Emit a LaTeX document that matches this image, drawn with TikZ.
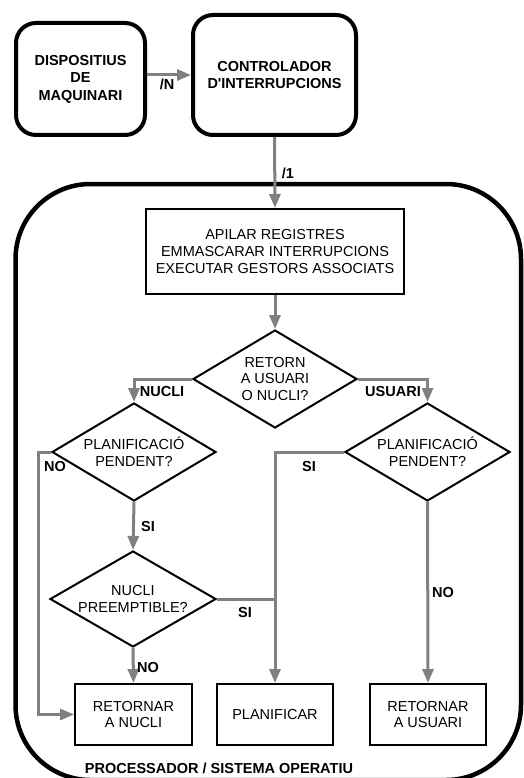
\documentclass[tikz,border=0pt]{standalone}
\usepackage{fontspec}
\setmainfont{Liberation Sans}
\usetikzlibrary{shapes.geometric,arrows.meta}
\definecolor{flowgray}{HTML}{808080}
\begin{document}
\begin{tikzpicture}[x=1pt,y=-1pt,
  every node/.style={font=\fontsize{14.5}{16.8}\selectfont, align=center, inner sep=0pt},
  unit/.style={draw, line width=4pt, rounded corners=20pt,
    font=\bfseries\fontsize{14.5}{17.5}\selectfont},
  system/.style={draw, line width=4.5pt, rounded corners=75pt},
  stepbox/.style={draw, line width=2pt},
  question/.style={draw, diamond, line width=2pt},
  flow/.style={draw=flowgray, line width=3pt, -{Triangle[length=14pt,width=11pt]}},
  link/.style={draw=flowgray, line width=3pt},
  tag/.style={font=\bfseries\fontsize{14.5}{16.8}\selectfont},
]
\useasboundingbox (0,0) rectangle (523,778);

% outer system frame (runs past the lower edge of the page)
\node[system, minimum width=505.5pt, minimum height=596pt] (proc) at (268.25,482) {};
\node[tag] (proclabel) at (219,768) {PROCESSADOR / SISTEMA OPERATIU};

% hardware side
\node[unit, minimum width=129pt, minimum height=112pt] (disp) at (80.5,79) {DISPOSITIUS\\DE\\MAQUINARI};
\node[unit, minimum width=163pt, minimum height=120pt] (ctrl) at (274.5,75) {CONTROLADOR\\D\textquotesingle INTERRUPCIONS};

% interrupt handling
\node[stepbox, minimum width=258pt, minimum height=85pt] (apilar) at (275,251.5)
  {APILAR REGISTRES\\EMMASCARAR INTERRUPCIONS\\EXECUTAR GESTORS ASSOCIATS};

\node[question, minimum width=164pt, minimum height=98pt,
  label={center:RETORN\\A USUARI\\O NUCLI?}] (ret) at (275,379) {};
\node[question, minimum width=164pt, minimum height=98pt,
  label={center:PLANIFICACIÓ\\PENDENT?}] (pl1) at (134,452) {};
\node[question, minimum width=165pt, minimum height=98pt,
  label={center:PLANIFICACIÓ\\PENDENT?}] (pl2) at (427.5,452) {};
\node[question, minimum width=166pt, minimum height=96pt,
  label={center:NUCLI\\PREEMPTIBLE?}] (np) at (133,599) {};

\node[stepbox, minimum width=117pt, minimum height=61pt] (rn) at (133.5,714.5) {RETORNAR\\A NUCLI};
\node[stepbox, minimum width=116pt, minimum height=61pt] (plan) at (275,714.5) {PLANIFICAR};
\node[stepbox, minimum width=116pt, minimum height=61pt] (ru) at (428,714.5) {RETORNAR\\A USUARI};

% connectors
\coordinate (noturn) at (38,452);
\coordinate (join) at (275,599);

\draw[flow] (disp.east |- ctrl.west) -- (ctrl.west);
\draw[flow] (ctrl.south) -- (apilar.north);
\draw[flow] (apilar.south) -- (ret.north);
\draw[flow] (ret.west) -| (pl1.north);
\draw[flow] (ret.east) -| (pl2.north);
\draw[flow] (pl1.west) -- (noturn) |- (rn.west);
\draw[flow] (pl1.south) -- (np.north);
\draw[flow] (np.south) -- (rn.north);
\draw[link] (np.east) -- (join);
\draw[flow] (pl2.west) -| (plan.north);
\draw[flow] (pl2.south) -- (ru.north);

% connector labels
\node[tag] (lN) at (167,84) {/N};
\node[tag] (l1) at (288,173) {/1};
\node[tag] (lnucli) at (162,392) {NUCLI};
\node[tag] (lusuari) at (393,392) {USUARI};
\node[tag] (lno1) at (55,467) {NO};
\node[tag] (lsi1) at (309,467) {SI};
\node[tag] (lsi2) at (148,527) {SI};
\node[tag] (lsi3) at (245,613) {SI};
\node[tag] (lno2) at (148,667) {NO};
\node[tag] (lno3) at (443,593) {NO};
\end{tikzpicture}
\end{document}
